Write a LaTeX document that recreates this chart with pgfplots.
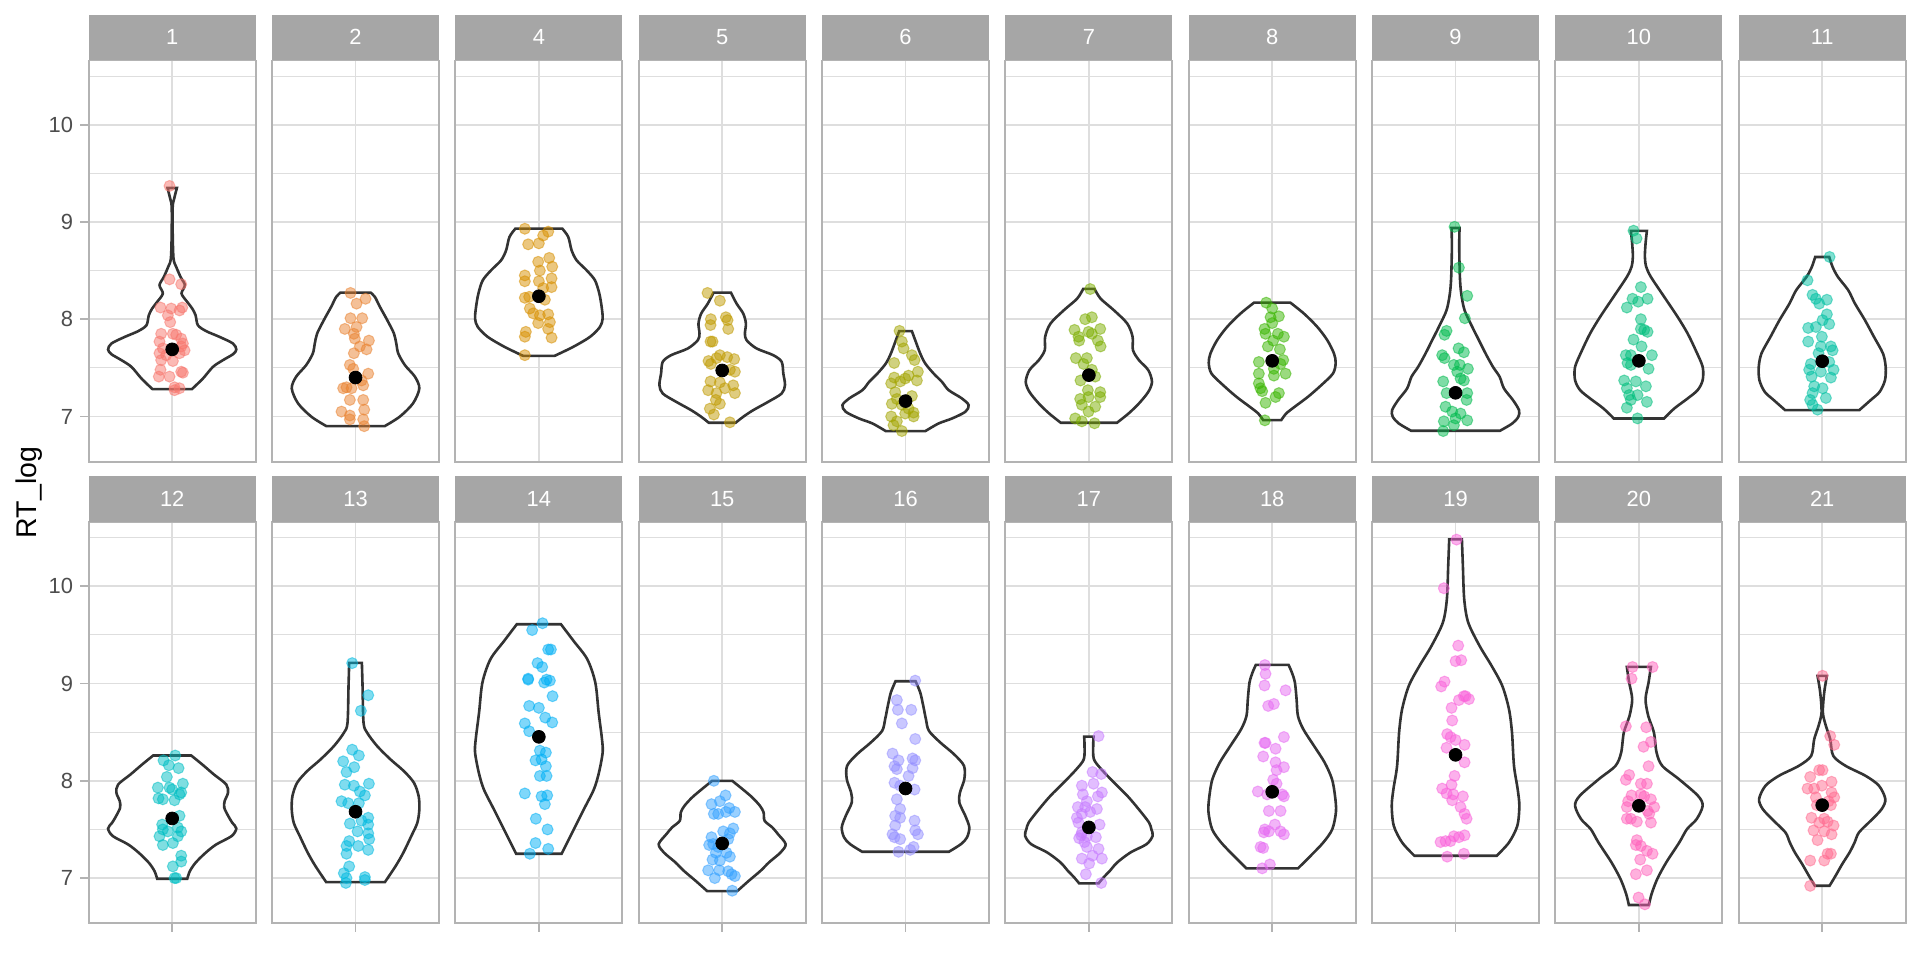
\documentclass[border=0pt]{standalone}
\usepackage{fontspec}
\setmainfont{Liberation Sans}
\usepackage{pgfplots}
\pgfplotsset{compat=1.18}
\usepackage{pgfplotstable}
\usepgfplotslibrary{fillbetween}

\definecolor{grey20}{HTML}{333333}
\definecolor{grey30}{HTML}{4D4D4D}
\definecolor{grey70}{HTML}{B3B3B3}
\definecolor{grey87}{HTML}{DEDEDE}
\definecolor{stripgray}{HTML}{A6A6A6}
\definecolor{cA}{HTML}{F8766D}
\definecolor{cB}{HTML}{EA8331}
\definecolor{cC}{HTML}{D89000}
\definecolor{cD}{HTML}{C09B00}
\definecolor{cE}{HTML}{A3A500}
\definecolor{cF}{HTML}{7CAE00}
\definecolor{cG}{HTML}{39B600}
\definecolor{cH}{HTML}{00BB4E}
\definecolor{cI}{HTML}{00BF7D}
\definecolor{cJ}{HTML}{00C1A3}
\definecolor{cK}{HTML}{00BFC4}
\definecolor{cL}{HTML}{00BAE0}
\definecolor{cM}{HTML}{00B0F6}
\definecolor{cN}{HTML}{35A2FF}
\definecolor{cO}{HTML}{9590FF}
\definecolor{cP}{HTML}{C77CFF}
\definecolor{cQ}{HTML}{E76BF3}
\definecolor{cR}{HTML}{FA62DB}
\definecolor{cS}{HTML}{FF62BC}
\definecolor{cT}{HTML}{FF6C91}

% ---------- violin outlines: y and half-width ----------
\pgfplotstableread{
y w
7.281 59
7.390 92
7.510 122
7.579 152
7.640 182
7.688 192
7.750 182
7.818 142
7.877 102
7.938 77
8.041 70
8.110 60
8.178 45
8.264 28
8.350 38
8.435 25
8.538 12
8.623 4
8.880 1.5
9.154 1.5
9.240 6
9.349 14
}\vA
\pgfplotstableread{
y w
6.900 87
6.997 132
7.134 172
7.288 191
7.408 178
7.527 148
7.647 128
7.750 122
7.853 115
7.990 95
8.127 73
8.229 58
8.274 45
}\vB
\pgfplotstableread{
y w
7.623 47
7.716 103
7.818 153
7.921 183
8.007 191
8.127 188
8.264 181
8.400 168
8.503 143
8.606 113
8.709 98
8.846 88
8.932 70
}\vC
\pgfplotstableread{
y w
6.935 40
6.997 63
7.065 93
7.151 138
7.236 178
7.322 188
7.442 183
7.562 178
7.630 153
7.699 103
7.784 73
7.853 68
7.955 71
8.058 63
8.161 43
8.274 26
}\vD
\pgfplotstableread{
y w
6.849 59
6.928 99
6.979 139
7.048 179
7.116 189
7.185 169
7.271 129
7.356 109
7.442 84
7.545 59
7.647 44
7.784 29
7.877 19
}\vE
\pgfplotstableread{
y w
6.935 84
7.031 119
7.134 150
7.253 178
7.356 189
7.476 178
7.579 150
7.682 132
7.818 131
7.955 115
8.092 75
8.212 35
8.312 17
}\vF
\pgfplotstableread{
y w
6.962 27
7.031 42
7.099 67
7.202 107
7.322 147
7.442 182
7.551 190
7.647 185
7.784 165
7.921 135
8.058 95
8.171 54
}\vG
\pgfplotstableread{
y w
6.853 133
6.928 170
6.997 188
7.065 190
7.168 172
7.288 145
7.408 132
7.510 112
7.647 90
7.784 70
7.921 50
8.092 27
8.264 17
8.435 13
8.743 11
8.938 12
}\vH
\pgfplotstableread{
y w
6.979 75
7.082 106
7.185 146
7.271 176
7.373 191
7.510 191
7.682 170
7.853 146
8.024 116
8.229 76
8.435 36
8.538 22
8.640 18
8.777 20
8.908 24
}\vI
\pgfplotstableread{
y w
7.065 111
7.168 145
7.253 172
7.373 188
7.510 190
7.647 182
7.818 155
7.990 128
8.161 98
8.298 78
8.435 47
8.538 31
8.640 21
}\vJ
\pgfplotstableread{
y w
6.993 45
7.072 53
7.158 70
7.260 100
7.346 132
7.432 178
7.510 192
7.568 180
7.637 168
7.723 156
7.791 157
7.877 167
7.962 162
8.065 125
8.168 90
8.260 57
}\vK
\pgfplotstableread{
y w
6.959 88
7.123 120
7.260 143
7.432 167
7.568 185
7.705 191
7.842 189
7.979 175
8.099 145
8.219 105
8.356 65
8.493 35
8.596 24
8.973 21
9.212 19
}\vL
\pgfplotstableread{
y w
7.250 68
7.469 100
7.709 135
7.914 165
8.086 180
8.291 191
8.428 189
8.702 179
9.010 169
9.250 145
9.438 104
9.610 66
}\vM
\pgfplotstableread{
y w
6.866 45
6.973 80
7.075 115
7.161 140
7.264 175
7.349 190
7.452 167
7.521 150
7.589 127
7.675 124
7.743 113
7.829 90
7.914 61
8.000 30
}\vN
\pgfplotstableread{
y w
7.271 130
7.349 166
7.418 184
7.521 191
7.640 179
7.777 161
7.880 163
8.017 176
8.154 175
8.274 145
8.394 104
8.514 70
8.634 61
8.771 53
8.908 44
9.024 30
}\vO
\pgfplotstableread{
y w
6.945 29
7.007 44
7.075 63
7.161 85
7.264 125
7.349 173
7.435 191
7.503 187
7.572 180
7.709 149
7.846 115
7.983 75
8.120 37
8.223 15
8.360 13
8.455 14
}\vP
\pgfplotstableread{
y w
7.099 77
7.229 115
7.366 153
7.503 180
7.685 191
7.846 188
8.017 179
8.188 157
8.360 125
8.531 93
8.668 77
8.839 73
9.010 68
9.113 59
9.192 49
}\vQ
\pgfplotstableread{
y w
7.229 123
7.366 160
7.538 185
7.743 191
7.914 186
8.154 175
8.497 169
8.736 160
8.976 140
9.182 108
9.387 72
9.627 38
9.866 26
10.209 22
10.483 19
}\vR
\pgfplotstableread{
y w
6.723 30
6.836 38
6.990 55
7.161 82
7.366 121
7.503 144
7.606 173
7.743 191
7.846 177
8.017 120
8.154 70
8.291 53
8.497 45
8.668 28
8.839 20
9.010 29
9.171 36
}\vS
\pgfplotstableread{
y w
6.921 22
7.024 40
7.144 60
7.264 82
7.366 97
7.469 110
7.589 145
7.709 178
7.812 189
7.949 170
8.051 130
8.154 70
8.257 33
8.428 24
8.565 11
8.702 2
8.908 6
9.079 14
}\vT

% ---------- jittered points: x offset and RT_log ----------
\pgfplotstableread{
x y
-8 9.37
-8 8.41
27 8.36
-35 8.12
-3 8.11
30 8.12
22 8.09
-13 8.04
-6 7.97
-33 7.85
2 7.85
12 7.84
27 7.80
-38 7.77
32 7.75
-28 7.70
37 7.68
-38 7.65
-18 7.63
22 7.65
-33 7.58
2 7.57
27 7.72
-35 7.48
32 7.45
-40 7.41
-8 7.41
27 7.46
7 7.30
22 7.29
7 7.27
}\pA
\pgfplotstableread{
x y
-15 8.27
3 8.16
30 8.21
-15 8.01
20 8.01
-32 7.90
3 7.92
-5 7.85
-2 7.80
40 7.78
13 7.72
33 7.69
-5 7.65
-17 7.53
-7 7.49
38 7.44
18 7.37
-27 7.30
-37 7.29
-12 7.29
23 7.32
-17 7.17
23 7.17
26 7.07
-42 7.05
-17 7.01
23 6.97
-17 6.97
26 6.90
}\pB
\pgfplotstableread{
x y
-42 8.93
28 8.90
13 8.86
-32 8.77
0 8.78
31 8.63
-2 8.59
40 8.54
3 8.50
-42 8.45
-42 8.39
38 8.42
0 8.39
38 8.33
13 8.32
-42 8.22
-29 8.23
18 8.20
-27 8.11
-17 8.06
3 8.04
28 8.05
33 7.97
-2 7.96
28 7.90
-39 7.87
-42 7.82
38 7.81
-42 7.63
}\pC
\pgfplotstableread{
x y
-44 8.27
-7 8.19
-34 8.00
11 8.02
16 7.99
-35 7.94
18 7.90
-35 7.77
-29 7.77
-7 7.63
15 7.61
36 7.59
-41 7.57
-17 7.60
-34 7.54
38 7.46
23 7.48
-35 7.36
-7 7.35
33 7.32
-42 7.27
8 7.29
-17 7.24
38 7.24
-19 7.17
-7 7.13
-37 7.08
-25 7.02
23 6.94
}\pD
\pgfplotstableread{
x y
-18 7.88
-11 7.77
-6 7.70
19 7.63
27 7.58
-34 7.55
37 7.46
9 7.42
-1 7.39
-34 7.40
34 7.37
-43 7.34
-16 7.36
-31 7.25
-26 7.18
19 7.21
-41 7.13
-11 7.12
9 7.08
24 7.04
-1 7.03
-43 7.00
-26 6.95
-36 6.91
24 7.00
-11 6.85
}\pE
\pgfplotstableread{
x y
4 8.31
-11 8.00
9 8.02
-43 7.89
-31 7.82
-1 7.87
34 7.90
9 7.85
27 7.78
35 7.72
-29 7.78
-39 7.60
-6 7.60
-16 7.54
9 7.48
19 7.41
-25 7.37
-3 7.27
34 7.25
34 7.20
-26 7.18
-1 7.20
-21 7.12
19 7.10
-1 7.05
-41 6.98
-21 6.95
17 6.93
}\pF
\pgfplotstableread{
x y
-18 8.17
0 8.11
-5 8.02
20 8.03
0 7.96
-23 7.90
-20 7.85
17 7.85
35 7.82
3 7.78
-13 7.72
23 7.69
-40 7.56
33 7.58
25 7.54
5 7.49
-40 7.44
40 7.44
5 7.42
-40 7.34
-30 7.26
20 7.24
10 7.20
-20 7.14
-22 6.96
-35 7.29
}\pG
\pgfplotstableread{
x y
-3 8.95
10 8.53
35 8.24
28 8.01
-27 7.88
-33 7.84
9 7.70
25 7.66
-40 7.63
-33 7.60
-5 7.53
13 7.53
37 7.49
5 7.46
15 7.39
25 7.37
-37 7.36
-27 7.24
35 7.24
33 7.17
-30 7.10
-10 7.05
15 7.03
35 6.96
0 6.98
-35 6.95
-5 6.91
-37 6.85
}\pH
\pgfplotstableread{
x y
-16 8.91
-7 8.83
6 8.33
-19 8.21
26 8.21
-2 8.18
-36 8.12
6 8.00
6 7.90
26 7.87
16 7.89
-16 7.79
8 7.72
-39 7.63
-24 7.63
39 7.63
-34 7.55
-24 7.53
29 7.49
-44 7.37
-9 7.36
21 7.31
-36 7.29
-29 7.22
-4 7.22
24 7.15
-36 7.09
-4 6.98
-24 7.17
}\pI
\pgfplotstableread{
x y
22 8.64
-44 8.40
-29 8.25
-19 8.21
-9 8.16
14 8.20
14 8.05
1 7.99
21 7.95
-42 7.91
-19 7.92
-42 7.77
-1 7.82
-4 7.72
26 7.72
-11 7.65
31 7.68
21 7.56
-34 7.54
-39 7.48
34 7.48
-4 7.46
-32 7.41
26 7.40
-24 7.31
1 7.29
-29 7.24
11 7.19
-29 7.12
-14 7.07
-36 7.17
}\pJ
\pgfplotstableread{
x y
9 8.26
-26 8.21
-10 8.16
19 8.13
-16 8.04
-43 7.93
-8 7.93
32 7.97
0 7.91
27 7.88
-41 7.82
-28 7.81
7 7.80
22 7.86
22 7.64
27 7.48
-30 7.55
-28 7.50
-13 7.48
17 7.52
-38 7.43
17 7.43
2 7.36
-28 7.34
27 7.23
27 7.17
2 7.12
7 7.00
12 7.00
}\pK
\pgfplotstableread{
x y
-10 9.21
38 8.88
16 8.72
-10 8.32
10 8.26
-37 8.20
-4 8.14
-27 8.09
-32 7.96
-5 7.95
40 7.97
13 7.89
28 7.85
-42 7.79
-22 7.77
10 7.77
38 7.62
18 7.59
-17 7.56
38 7.55
6 7.48
38 7.46
-19 7.38
41 7.40
-27 7.33
8 7.33
38 7.29
-27 7.25
-19 7.12
-35 7.05
-27 7.00
28 7.01
-29 6.95
28 6.98
}\pL
\pgfplotstableread{
x y
11 9.62
-20 9.55
28 9.35
36 9.35
-4 9.21
10 9.17
-32 9.05
-32 9.04
23 9.04
33 9.03
16 9.01
41 8.87
-29 8.77
0 8.75
19 8.65
40 8.60
-42 8.59
-29 8.51
3 8.31
21 8.29
-10 8.21
8 8.22
21 8.15
3 8.05
23 8.05
-42 7.87
8 7.84
25 7.85
18 7.76
-9 7.61
26 7.50
-10 7.36
28 7.30
-27 7.25
}\pM
\pgfplotstableread{
x y
-25 8.00
10 7.85
-7 7.79
-32 7.76
21 7.72
38 7.68
11 7.68
-25 7.66
-12 7.66
33 7.51
3 7.48
23 7.46
-32 7.42
18 7.40
-39 7.34
-27 7.35
-12 7.32
13 7.26
-19 7.26
23 7.22
-29 7.19
-7 7.18
-42 7.08
-9 7.08
18 7.07
38 7.02
-22 7.00
28 7.04
30 6.87
}\pN
\pgfplotstableread{
x y
29 9.03
-26 8.83
-23 8.73
17 8.73
-11 8.59
29 8.43
-39 8.28
-21 8.21
21 8.23
29 8.21
-33 8.15
-26 8.12
21 8.13
9 8.05
-33 7.98
-16 7.95
27 7.91
-26 7.81
-16 7.71
-31 7.64
-16 7.62
27 7.59
-31 7.54
29 7.49
-39 7.45
-33 7.42
-16 7.40
37 7.45
-21 7.27
14 7.29
24 7.32
}\pO
\pgfplotstableread{
x y
29 8.46
11 8.09
37 8.07
14 7.97
-21 7.95
-18 7.86
39 7.88
27 7.84
-6 7.79
-33 7.73
-11 7.73
24 7.71
4 7.68
-36 7.62
-21 7.66
-31 7.57
32 7.55
-21 7.47
-6 7.43
21 7.42
-29 7.41
-13 7.37
-6 7.32
29 7.30
11 7.23
-21 7.20
39 7.20
1 7.15
-9 7.04
37 6.95
-23 7.44
}\pP
\pgfplotstableread{
x y
-22 9.19
-20 9.10
-23 8.98
40 8.93
-12 8.77
5 8.79
-23 8.39
35 8.45
-20 8.39
10 8.33
-27 8.25
10 8.19
35 8.14
13 8.11
3 8.01
13 7.97
-43 7.89
-15 7.86
30 7.86
35 7.84
-10 7.69
25 7.69
8 7.55
-22 7.50
-10 7.48
-25 7.47
25 7.48
35 7.45
-35 7.32
-27 7.31
-7 7.14
-30 7.10
}\pQ
\pgfplotstableread{
x y
3 10.48
-35 9.98
8 9.39
0 9.23
17 9.24
-33 9.02
-43 8.97
25 8.87
30 8.87
10 8.83
40 8.84
-12 8.75
-10 8.62
-25 8.48
-15 8.45
0 8.42
-27 8.34
27 8.37
27 8.19
-3 8.05
-12 7.96
-40 7.92
-27 7.87
-7 7.86
-10 7.80
22 7.84
15 7.73
27 7.66
33 7.61
-5 7.43
10 7.42
27 7.44
-45 7.37
-30 7.38
-15 7.38
-25 7.22
25 7.25
}\pR
\pgfplotstableread{
x y
-19 9.17
41 9.17
-22 9.05
-39 8.56
22 8.55
36 8.40
14 8.35
29 8.15
-29 8.06
-39 8.01
6 7.97
24 7.97
-22 7.85
6 7.86
16 7.84
36 7.81
-32 7.79
-36 7.73
46 7.73
26 7.69
31 7.66
-36 7.61
-24 7.61
-6 7.58
36 7.57
-6 7.39
-9 7.34
6 7.33
24 7.28
41 7.25
4 7.19
24 7.08
-9 7.04
-1 6.80
18 6.73
}\pS
\pgfplotstableread{
x y
1 9.08
24 8.46
36 8.37
-9 8.11
1 8.11
-36 8.04
28 7.99
-44 7.92
-24 7.92
-1 7.95
28 7.88
36 7.83
19 7.79
-16 7.75
26 7.75
-32 7.62
6 7.61
16 7.58
34 7.54
-9 7.57
-26 7.49
6 7.48
28 7.45
-14 7.39
26 7.25
16 7.25
6 7.18
-36 7.18
-36 6.92
-19 7.83
}\pT

\pgfplotsset{
  panel/.style={
    scale only axis, width=83.5bp, height=200.6bp, anchor=south west,
    xmin=-250, xmax=250, ymin=6.535, ymax=10.66,
    xtick={0}, xticklabels={},
    ytick={7,8,9,10}, minor ytick={7.5,8.5,9.5,10.5},
    xmajorgrids, ymajorgrids, yminorgrids,
    major grid style={draw=grey87, line width=0.85bp},
    minor grid style={draw=grey87, line width=0.5bp},
    axis line style={draw=grey70, line width=0.9bp},
    tick align=outside, major tick length=4.3bp, minor tick length=0pt,
    tick style={draw=grey70, line width=0.85bp},
    xtick pos=bottom, ytick pos=left,
    /pgf/number format/assume math mode=true,
    tick label style={font=\fontsize{11}{12}\selectfont, text=grey30},
    every axis title shift=0pt,
    title style={fill=stripgray, text=white, font=\fontsize{11}{12}\selectfont,
      minimum width=83.5bp, minimum height=22.75bp, inner sep=0pt,
      anchor=south, at={(0.5,1)}},
  },
  inner/.style={yticklabels={}, ytick style={draw=none}},
  toprow/.style={xtick style={draw=none}},
}

\newcommand{\panel}[8]{%
  \begin{axis}[panel, at={(#1bp,#2bp)}, title={#3}, #8]
    \addplot[draw=none, name path=vr, smooth] table[x=w, y=y] {#5};
    \addplot[draw=none, name path=vl, smooth] table[x expr=-\thisrow{w}, y=y] {#5};
    \addplot[fill=white, draw=grey20, line width=1.3bp] fill between[of=vr and vl, reverse=true];
    \addplot[only marks, mark=*, mark size=2.75bp,
      mark options={draw=#4, fill=#4, opacity=0.5, line width=0.5bp}] table[x=x, y=y] {#6};
    \addplot[only marks, mark=*, mark size=3.2bp, mark options={draw=black, fill=black}] coordinates {(0,#7)};
  \end{axis}}

\begin{document}
\begin{tikzpicture}
\path (0,0) rectangle (960bp,480bp);
\panel{44.35}{249.15}{1}{cA}{\vA}{\pA}{7.69}{toprow}
\panel{136.02}{249.15}{2}{cB}{\vB}{\pB}{7.40}{toprow,inner}
\panel{227.68}{249.15}{4}{cC}{\vC}{\pC}{8.236}{toprow,inner}
\panel{319.35}{249.15}{5}{cD}{\vD}{\pD}{7.473}{toprow,inner}
\panel{411.02}{249.15}{6}{cE}{\vE}{\pE}{7.158}{toprow,inner}
\panel{502.68}{249.15}{7}{cF}{\vF}{\pF}{7.425}{toprow,inner}
\panel{594.35}{249.15}{8}{cG}{\vG}{\pG}{7.572}{toprow,inner}
\panel{686.02}{249.15}{9}{cH}{\vH}{\pH}{7.243}{toprow,inner}
\panel{777.68}{249.15}{10}{cI}{\vI}{\pI}{7.572}{toprow,inner}
\panel{869.35}{249.15}{11}{cJ}{\vJ}{\pJ}{7.568}{toprow,inner}
\panel{44.35}{18.35}{12}{cK}{\vK}{\pK}{7.613}{}
\panel{136.02}{18.35}{13}{cL}{\vL}{\pL}{7.682}{inner}
\panel{227.68}{18.35}{14}{cM}{\vM}{\pM}{8.452}{inner}
\panel{319.35}{18.35}{15}{cN}{\vN}{\pN}{7.356}{inner}
\panel{411.02}{18.35}{16}{cO}{\vO}{\pO}{7.921}{inner}
\panel{502.68}{18.35}{17}{cP}{\vP}{\pP}{7.521}{inner}
\panel{594.35}{18.35}{18}{cQ}{\vQ}{\pQ}{7.887}{inner}
\panel{686.02}{18.35}{19}{cR}{\vR}{\pR}{8.267}{inner}
\panel{777.68}{18.35}{20}{cS}{\vS}{\pS}{7.743}{inner}
\panel{869.35}{18.35}{21}{cT}{\vT}{\pT}{7.750}{inner}
\node[rotate=90, anchor=base, font=\fontsize{14.3}{16}\selectfont] at (18.3bp,233.75bp) {RT\_log};
\end{tikzpicture}
\end{document}
